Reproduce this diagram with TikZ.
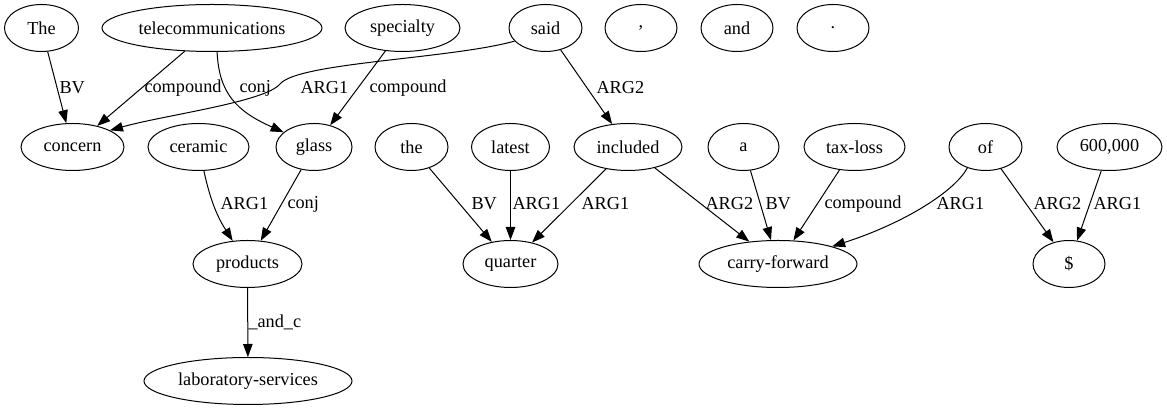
\documentclass[tikz,border=0pt]{standalone}
\usepackage{fontspec}
\setmainfont{Liberation Serif}
\usetikzlibrary{shapes.geometric,arrows.meta}
\begin{document}
\begin{tikzpicture}[x=1pt,y=1pt,
  nd/.style={draw,ellipse,line width=1pt,minimum height=47pt,inner sep=0pt,font=\fontsize{18.25}{22}\selectfont},
  lab/.style={anchor=west,inner sep=0pt,font=\fontsize{18.25}{22}\selectfont},
  ed/.style={line width=1pt,-{Triangle[length=13pt,width=9.5pt]}}]
\useasboundingbox (0,0) rectangle (1167,411);
% row 1
\node[nd,minimum width=74pt]  (The)       at (41.5,383) {The};
\node[nd,minimum width=220pt] (tele)      at (212,383)  {telecommunications};
\node[nd,minimum width=115pt] (specialty) at (402.5,383) {specialty};
\node[nd,minimum width=73pt]  (said)      at (545.5,383) {said};
\node[nd,minimum width=72pt]  (comma)     at (641,383)  {,};
\node[nd,minimum width=72pt]  (and)       at (737,383)  {and};
\node[nd,minimum width=72pt]  (period)    at (833,383)  {.};
% row 2
\node[nd,minimum width=103pt] (concern)   at (72.5,264) {concern};
\node[nd,minimum width=101pt] (ceramic)   at (198.5,264) {ceramic};
\node[nd,minimum width=76pt]  (glass)     at (314,264)  {glass};
\node[nd,minimum width=73pt]  (the)       at (411.5,264) {the};
\node[nd,minimum width=78pt]  (latest)    at (510.5,264) {latest};
\node[nd,minimum width=108pt] (included)  at (628,264)  {included};
\node[nd,minimum width=71pt]  (a)         at (743.5,264) {a};
\node[nd,minimum width=101pt] (taxloss)   at (854.5,264) {tax-loss};
\node[nd,minimum width=73pt]  (of)        at (985.5,264) {of};
\node[nd,minimum width=105pt] (sixk)      at (1109.5,264) {600,000};
% row 3
\node[nd,minimum width=109pt] (products)  at (247.5,147) {products};
\node[nd,minimum width=95pt]  (quarter)   at (510.5,147) {quarter};
\node[nd,minimum width=158pt] (carry)     at (778,147)  {carry-forward};
\node[nd,minimum width=72pt]  (dollar)    at (1069,147) {\$};
% row 4
\node[nd,minimum width=208pt] (lab)       at (248,30)   {laboratory-services};
% edges row 1 -> row 2
\draw[ed] (The) -- (concern) node[lab] at (59,323) {BV};
\draw[ed] (tele) -- (concern) node[lab] at (144,323) {compound};
\draw[ed] (tele.282) .. controls (219,318) and (236,300) .. (glass.154) node[lab] at (239,323) {conj};
\draw[ed] (said.203) .. controls (450,352) and (298,348.6) .. (280,327)
   .. controls (265,309) and (165,296) .. (concern.24) node[lab] at (300,323) {ARG1};
\draw[ed] (specialty) -- (glass) node[lab] at (369,323) {compound};
\draw[ed] (said) -- (included) node[lab] at (596,323) {ARG2};
% edges row 2 -> row 3
\draw[ed] (ceramic) to[bend right=10] (products) node[lab] at (220,207) {ARG1};
\draw[ed] (glass) -- (products) node[lab] at (287,207) {conj};
\draw[ed] (the) -- (quarter) node[lab] at (471,207) {BV};
\draw[ed] (latest) -- (quarter) node[lab] at (512,207) {ARG1};
\draw[ed] (included) -- (quarter) node[lab] at (581,207) {ARG1};
\draw[ed] (included) -- (carry) node[lab] at (705,207) {ARG2};
\draw[ed] (a) -- (carry) node[lab] at (765,207) {BV};
\draw[ed] (taxloss) -- (carry) node[lab] at (824,207) {compound};
\draw[ed] (of.229) .. controls (955,220) and (905,188) .. (carry.18) node[lab] at (936,207) {ARG1};
\draw[ed] (of) -- (dollar) node[lab] at (1033,207) {ARG2};
\draw[ed] (sixk) -- (dollar) node[lab] at (1093,207) {ARG1};
% row 3 -> row 4
\draw[ed] (products) -- (lab) node[lab] at (248,89) {\_and\_c};
\end{tikzpicture}
\end{document}
